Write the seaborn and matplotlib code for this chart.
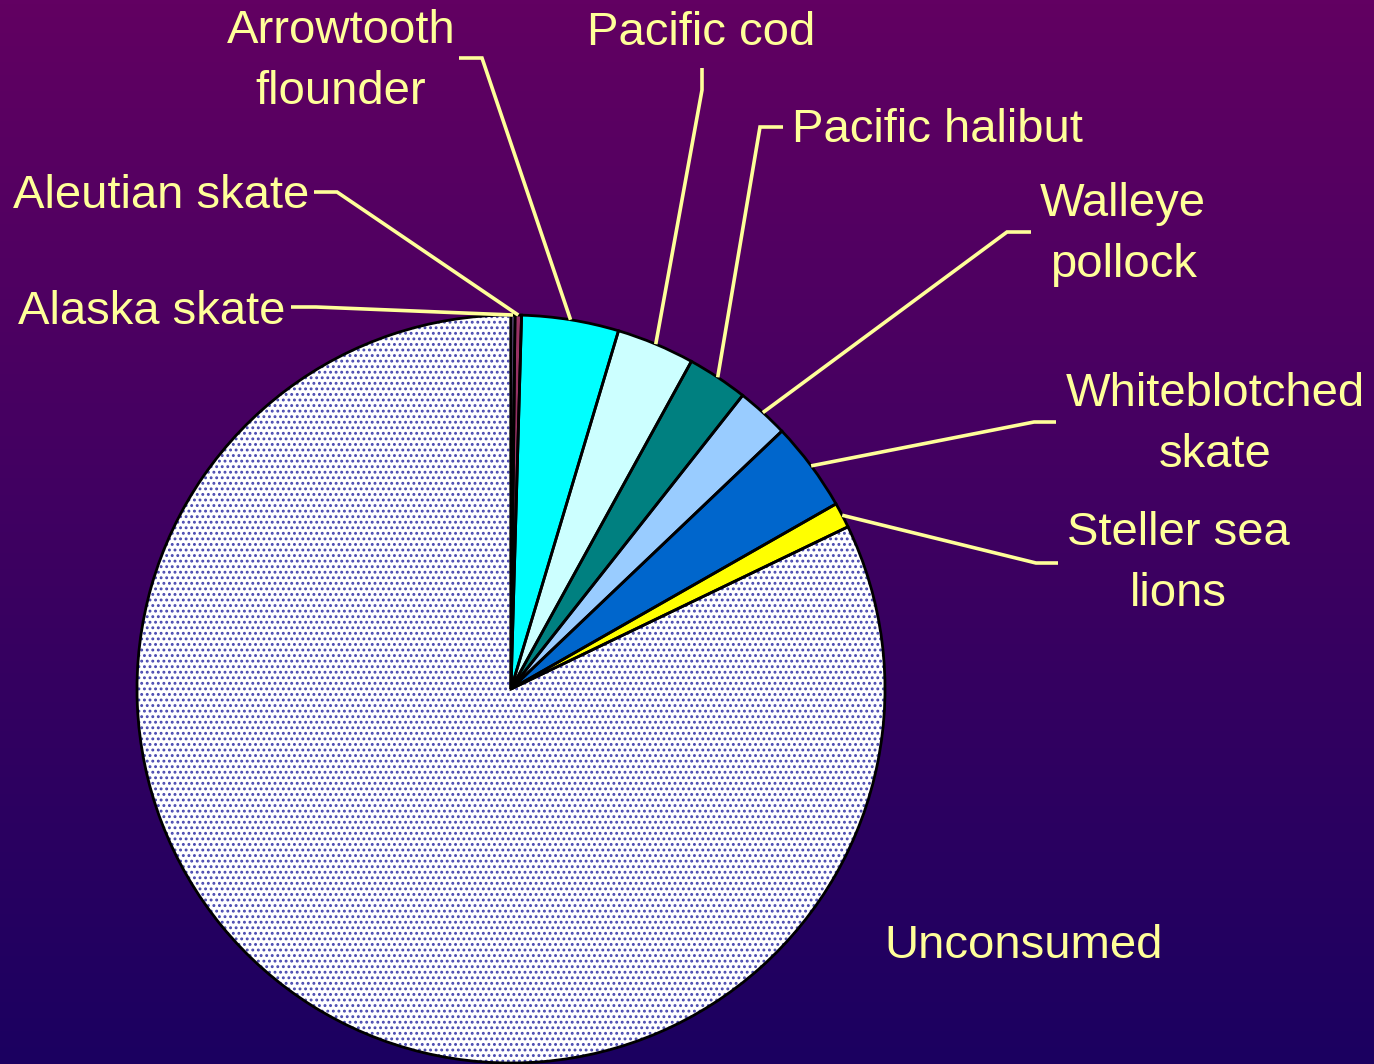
import numpy as np
import matplotlib
matplotlib.use("Agg")
import matplotlib.pyplot as plt
import seaborn as sns
from matplotlib.patches import Wedge

# Fate of production: share consumed by each predator (percent), clockwise from 12 o'clock
categories = ["Alaska skate", "Aleutian skate", "Arrowtooth flounder", "Pacific cod",
              "Pacific halibut", "Walleye pollock", "Whiteblotched skate",
              "Steller sea lions", "Unconsumed"]
shares = [0.17, 0.28, 4.19, 3.37, 2.62, 2.26, 3.87, 1.10, 82.14]
slice_colors = ["#CC99FF", "#993366", "#00FFFF", "#CCFFFF", "#008080",
                "#99CCFF", "#0066CC", "#FFFF00", "#FFFFFF"]

# Label text (multi-line) and layout in pixel units (y measured from the top)
label_text = ["Alaska skate", "Aleutian skate", "Arrowtooth\nflounder", "Pacific cod",
              "Pacific halibut", "Walleye\npollock", "Whiteblotched\nskate",
              "Steller sea\nlions", "Unconsumed"]
label_x = [152, 161, 341, 701, 937, 1123, 1215, 1178, 1024]
label_baseline = [324, 208, 43, 45, 142, 216, 406, 545, 958]
leader_elbow = [(316, 307), (337, 192), (482, 58), (702, 90), (760, 127),
                (1007, 232), (1034, 422), (1036, 563), None]
leader_end = [(291, 307), (314, 192), (459, 58), (702, 68), (783, 127),
              (1031, 232), (1056, 422), (1058, 563), None]

W, H = 1374, 1064
PIE_CENTER = (511, 689)
PIE_RADIUS = 374
TEXT_COLOR = "#FFFF99"
LINE_GAP = 61

sns.set_style("white")
plt.rcParams["font.family"] = ["Liberation Sans", "DejaVu Sans"]
plt.rcParams["hatch.linewidth"] = 1.3

fig = plt.figure(figsize=(W / 100, H / 100), dpi=100)
ax = fig.add_axes([0, 0, 1, 1])

# vertical purple-to-indigo background
g = np.linspace(0, 1, 256)[:, None, None]
top = np.array([0x62, 0x00, 0x62]) / 255
bottom = np.array([0x1B, 0x00, 0x60]) / 255
grad = top * (1 - g) + bottom * g
ax.imshow(grad, extent=(0, W, 0, H), aspect="auto", origin="upper", zorder=0)

palette = sns.color_palette(slice_colors)
cx, cy = PIE_CENTER[0], H - PIE_CENTER[1]
wedges, _ = ax.pie(shares, colors=palette, startangle=90, counterclock=False,
                   center=(cx, cy), radius=PIE_RADIUS,
                   wedgeprops=dict(linewidth=0, zorder=2))

# stippled fill for the unconsumed share
wedges[-1].set_hatch("...")
wedges[-1].set_edgecolor("#4848b0")
wedges[-1].set_linewidth(0)

# black slice outlines
for w in wedges:
    ax.add_patch(Wedge(w.center, w.r, w.theta1, w.theta2, fill=False,
                       edgecolor="black", linewidth=2.0, zorder=3))

# leader lines from the middle of each slice's rim
for w, elbow, end in zip(wedges, leader_elbow, leader_end):
    if elbow is None:
        continue
    mid = np.deg2rad((w.theta1 + w.theta2) / 2)
    x0 = w.center[0] + w.r * np.cos(mid)
    y0 = w.center[1] + w.r * np.sin(mid)
    ax.plot([x0, elbow[0], end[0]], [y0, H - elbow[1], H - end[1]],
            color=TEXT_COLOR, linewidth=2.6, solid_capstyle="butt",
            solid_joinstyle="miter", zorder=4)

for text, x, base in zip(label_text, label_x, label_baseline):
    for i, line in enumerate(text.split("\n")):
        ax.text(x, H - (base + i * LINE_GAP), line, ha="center", va="baseline",
                fontsize=34, color=TEXT_COLOR, zorder=5)

ax.set_xlim(0, W)
ax.set_ylim(0, H)
ax.set_aspect("equal")
ax.axis("off")

fig.savefig("out.png", dpi=100)
